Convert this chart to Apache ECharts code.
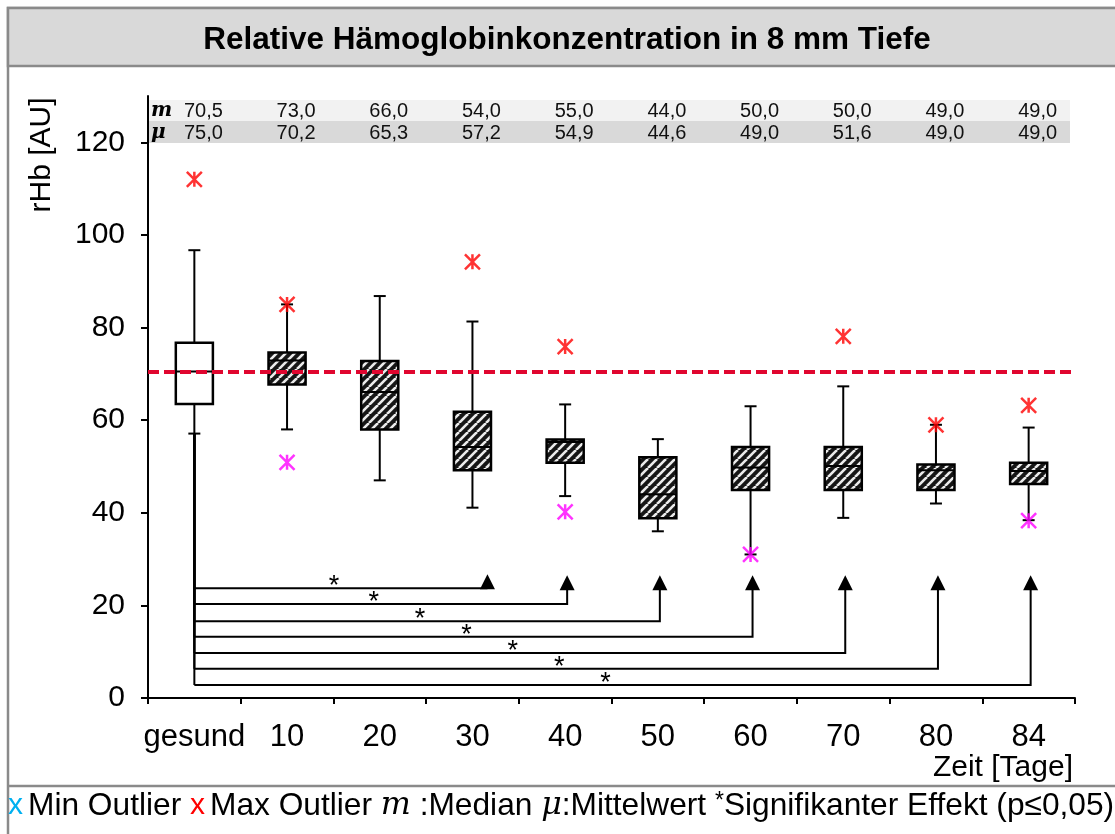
<!DOCTYPE html>
<html lang="de">
<head>
    <meta charset="UTF-8">
    <title>Relative Hämoglobinkonzentration</title>
    <script type="text/javascript" src="https://cdn.jsdelivr.net/npm/echarts@6/dist/echarts.min.js"></script>
    <style>
        html, body { margin: 0; padding: 0; background: #fff; }
    </style>
</head>
<body>
<div id="chart" style="width: 1115px;height: 834px;"></div>
<script type="text/javascript">
    // Daten
    var categories = ['gesund', '10', '20', '30', '40', '50', '60', '70', '80', '84'];
    var whiskerLow = [57.1, 58.0, 47.0, 41.1, 43.6, 36.0, 31.0, 38.9, 42.0, 38.4];
    var quart1 = [63.5, 67.7, 58.0, 49.2, 50.8, 38.8, 44.9, 44.9, 44.9, 46.2];
    var medianVal = [70.5, 72.9, 66.1, 54.2, 55.3, 44.0, 49.8, 50.1, 49.2, 49.0];
    var quart3 = [76.7, 74.6, 72.8, 61.8, 55.8, 52.0, 54.2, 54.2, 50.4, 50.8];
    var whiskerHigh = [96.7, 85.0, 86.8, 81.3, 63.4, 55.9, 63.0, 67.3, 59.0, 58.4];
    var maxOutliers = [[0, 112.0], [1, 85.0], [3, 94.2], [4, 75.9], [7, 78.1], [8, 59.0], [9, 63.2]];
    var minOutliers = [[1, 50.9], [4, 40.2], [6, 31.0], [9, 38.3]];
    var tableMedian = [70.5, 73.0, 66.0, 54.0, 55.0, 44.0, 50.0, 50.0, 49.0, 49.0];
    var tableMean = [75.0, 70.2, 65.3, 57.2, 54.9, 44.6, 49.0, 51.6, 49.0, 49.0];
    var refLine = 70.5;
    var sigTargets = [3, 4, 5, 6, 7, 8, 9];
    var sigLevels = [23.7, 20.3, 16.6, 13.2, 9.7, 6.3, 2.8];
    var yTicks = [0, 20, 40, 60, 80, 100, 120];

    var FONT = 'Liberation Sans, Arial, sans-serif';
    var SERIF = '"DejaVu Serif", "Liberation Serif", serif';
    var ARROW_BASE = 23.5;

    function fmt(v) {
        return v.toFixed(1).replace('.', ',');
    }

    function makeHatch() {
        var s = 9;
        var c = document.createElement('canvas');
        c.width = s;
        c.height = s;
        var g = c.getContext('2d');
        g.fillStyle = '#161616';
        g.fillRect(0, 0, s, s);
        g.strokeStyle = '#ececec';
        g.lineWidth = 2.6;
        for (var k = -1; k <= 1; k++) {
            g.beginPath();
            g.moveTo(k * s, s);
            g.lineTo(k * s + s, 0);
            g.stroke();
        }
        return c;
    }
    var hatch = {image: makeHatch(), repeat: 'repeat'};

    var boxData = [];
    for (var i = 0; i < categories.length; i++) {
        boxData.push([i, whiskerLow[i], quart1[i], medianVal[i], quart3[i], whiskerHigh[i]]);
    }
    var sigData = [];
    for (var j = 0; j < sigTargets.length; j++) {
        sigData.push([sigTargets[j], sigLevels[j]]);
    }

    function renderBox(params, api) {
        var x = api.value(0);
        var pLow = api.coord([x, api.value(1)]);
        var pQ1 = api.coord([x, api.value(2)]);
        var pMed = api.coord([x, api.value(3)]);
        var pQ3 = api.coord([x, api.value(4)]);
        var pHigh = api.coord([x, api.value(5)]);
        var bw = api.size([1, 0])[0] * 0.4;
        var cw = 6;
        var cx = pMed[0];
        var line = {stroke: '#000', lineWidth: 2};
        return {
            type: 'group',
            children: [
                {type: 'line', shape: {x1: cx, y1: pHigh[1], x2: cx, y2: pQ3[1]}, style: line},
                {type: 'line', shape: {x1: cx, y1: pQ1[1], x2: cx, y2: pLow[1]}, style: line},
                {type: 'line', shape: {x1: cx - cw, y1: pHigh[1], x2: cx + cw, y2: pHigh[1]}, style: line},
                {type: 'line', shape: {x1: cx - cw, y1: pLow[1], x2: cx + cw, y2: pLow[1]}, style: line},
                {
                    type: 'rect',
                    shape: {x: cx - bw / 2, y: pQ3[1], width: bw, height: pQ1[1] - pQ3[1]},
                    style: {fill: x === 0 ? '#fff' : hatch, stroke: '#000', lineWidth: 2.5}
                },
                {type: 'line', shape: {x1: cx - bw / 2, y1: pMed[1], x2: cx + bw / 2, y2: pMed[1]}, style: line}
            ]
        };
    }

    function renderSig(params, api) {
        var t = api.value(0);
        var level = api.value(1);
        var start = api.coord([0, level]);
        var end = api.coord([t, level]);
        var base = api.coord([t, ARROW_BASE]);
        var top = api.coord([0, whiskerLow[0]]);
        var ax = end[0] + (params.dataIndex === 0 ? 15 : 2);
        var by = Math.min(base[1], start[1]);
        var line = {stroke: '#000', lineWidth: 2, fill: null};
        return {
            type: 'group',
            children: [
                {type: 'line', shape: {x1: start[0], y1: top[1], x2: start[0], y2: start[1]}, style: line},
                {type: 'polyline', shape: {points: [[start[0], start[1]], [ax, start[1]], [ax, by]]}, style: line},
                {type: 'polygon', shape: {points: [[ax - 7.5, by + 1], [ax + 7.5, by + 1], [ax, by - 14]]}, style: {fill: '#000'}},
                {
                    type: 'text',
                    x: (start[0] + ax) / 2 - 7,
                    y: start[1] - 15,
                    style: {text: '*', fill: '#000', font: '27px ' + FONT, textAlign: 'center', textVerticalAlign: 'top'}
                }
            ]
        };
    }

    var starPath = 'path://M0,0L10,10M10,0L0,10M5,0L5,10';

    var chart = echarts.init(document.getElementById('chart'));
    var option = {
        backgroundColor: '#fff',
        animation: false,
        grid: {left: 148, right: 40, top: 96, bottom: 136},
        xAxis: [{
            type: 'category',
            data: categories,
            axisLine: {lineStyle: {color: '#000', width: 2}},
            axisTick: {show: true, length: 6, lineStyle: {color: '#000', width: 2}},
            axisLabel: {color: '#000', fontSize: 31, fontFamily: FONT, margin: 24, interval: 0}
        }, {
            type: 'category',
            data: categories,
            position: 'top',
            offset: -27,
            axisLine: {show: false},
            axisTick: {show: false},
            axisLabel: {
                color: '#111', fontSize: 20, fontFamily: FONT, margin: 2, interval: 0,
                padding: [0, 0, 0, 18],
                formatter: function (v, idx) { return fmt(tableMedian[idx]); }
            }
        }, {
            type: 'category',
            data: categories,
            position: 'top',
            offset: -49,
            axisLine: {show: false},
            axisTick: {show: false},
            axisLabel: {
                color: '#111', fontSize: 20, fontFamily: FONT, margin: 2, interval: 0,
                padding: [0, 0, 0, 18],
                formatter: function (v, idx) { return fmt(tableMean[idx]); }
            }
        }],
        yAxis: {
            type: 'value',
            min: 0,
            max: 130,
            splitLine: {show: false},
            axisLine: {show: true, lineStyle: {color: '#000', width: 2}},
            axisTick: {show: true, length: 7, customValues: yTicks, lineStyle: {color: '#000', width: 2}},
            axisLabel: {color: '#000', fontSize: 30, fontFamily: FONT, margin: 23, customValues: yTicks}
        },
        graphic: [
            {type: 'rect', z: -20, silent: true, shape: {x: 8, y: 8, width: 1120, height: 840}, style: {fill: null, stroke: '#8a8a8a', lineWidth: 2.5}},
            {type: 'rect', z: -19, silent: true, shape: {x: 8, y: 8, width: 1120, height: 58}, style: {fill: '#d9d9d9', stroke: '#8a8a8a', lineWidth: 2.5}},
            {type: 'line', z: -19, silent: true, shape: {x1: 8, y1: 786, x2: 1115, y2: 786}, style: {stroke: '#8a8a8a', lineWidth: 2.5}},
            {
                type: 'text', x: 567, y: 40, silent: true,
                style: {text: 'Relative Hämoglobinkonzentration in 8 mm Tiefe', fill: '#000', font: 'bold 31.5px ' + FONT, textAlign: 'center', textVerticalAlign: 'middle'}
            },
            {type: 'rect', z: -10, silent: true, shape: {x: 149, y: 100, width: 921, height: 21}, style: {fill: '#f2f2f2'}},
            {type: 'rect', z: -10, silent: true, shape: {x: 149, y: 121, width: 921, height: 22}, style: {fill: '#d9d9d9'}},
            {
                type: 'text', x: 151, y: 111, silent: true,
                style: {text: 'm', fill: '#000', font: 'italic bold 20px ' + SERIF, textVerticalAlign: 'middle'}
            },
            {
                type: 'text', x: 151, y: 133, silent: true,
                style: {text: 'μ', fill: '#000', font: 'italic bold 20px ' + SERIF, textVerticalAlign: 'middle'}
            },
            {
                type: 'text', x: 42, y: 155, rotation: Math.PI / 2, silent: true,
                style: {text: 'rHb [AU]', fill: '#000', font: '30px ' + FONT, textAlign: 'center', textVerticalAlign: 'middle'}
            },
            {
                type: 'text', x: 1073, y: 768, silent: true,
                style: {text: 'Zeit [Tage]', fill: '#000', font: '30px ' + FONT, textAlign: 'right', textVerticalAlign: 'middle'}
            },
            {
                type: 'text', x: 8, y: 806, silent: true,
                style: {
                    text: '{c|x}{t|Min Outlier }{r|x}{t|Max Outlier }{m|m}{t| :Median }{u|μ}{t|:Mittelwert }{s|*}{t|Signifikanter Effekt (p≤0,05)}',
                    textVerticalAlign: 'middle',
                    rich: {
                        t: {fontSize: 31.7, fontFamily: FONT, fill: '#000'},
                        c: {fontSize: 30, fontFamily: FONT, fill: '#00b0f0', padding: [0, 5, 0, 0]},
                        r: {fontSize: 30, fontFamily: FONT, fill: '#ff0000', padding: [0, 5, 0, 0]},
                        m: {fontSize: 31.7, fontFamily: SERIF, fontStyle: 'italic', fill: '#000'},
                        u: {fontSize: 31.7, fontFamily: SERIF, fontStyle: 'italic', fill: '#000'},
                        s: {fontSize: 23, fontFamily: FONT, fill: '#000', verticalAlign: 'top'}
                    }
                }
            }
        ],
        series: [
            {
                name: 'Boxen',
                type: 'custom',
                z: 2,
                silent: true,
                renderItem: renderBox,
                data: boxData
            },
            {
                name: 'Signifikanz',
                type: 'custom',
                z: 3,
                silent: true,
                clip: false,
                renderItem: renderSig,
                data: sigData
            },
            {
                name: 'Min Outlier',
                type: 'scatter',
                z: 6,
                silent: true,
                symbol: starPath,
                symbolSize: 15,
                itemStyle: {color: 'none', borderColor: '#ff00ff', borderWidth: 2.5},
                data: minOutliers
            },
            {
                name: 'Max Outlier',
                type: 'scatter',
                z: 6,
                silent: true,
                symbol: starPath,
                symbolSize: 15,
                itemStyle: {color: 'none', borderColor: '#ff0000', borderWidth: 2.5},
                data: maxOutliers,
                markLine: {
                    silent: true,
                    symbol: 'none',
                    label: {show: false},
                    lineStyle: {color: '#e0062f', type: [11, 5], width: 4},
                    data: [{yAxis: refLine}]
                }
            }
        ]
    };
    chart.setOption(option);
</script>
</body>
</html>
